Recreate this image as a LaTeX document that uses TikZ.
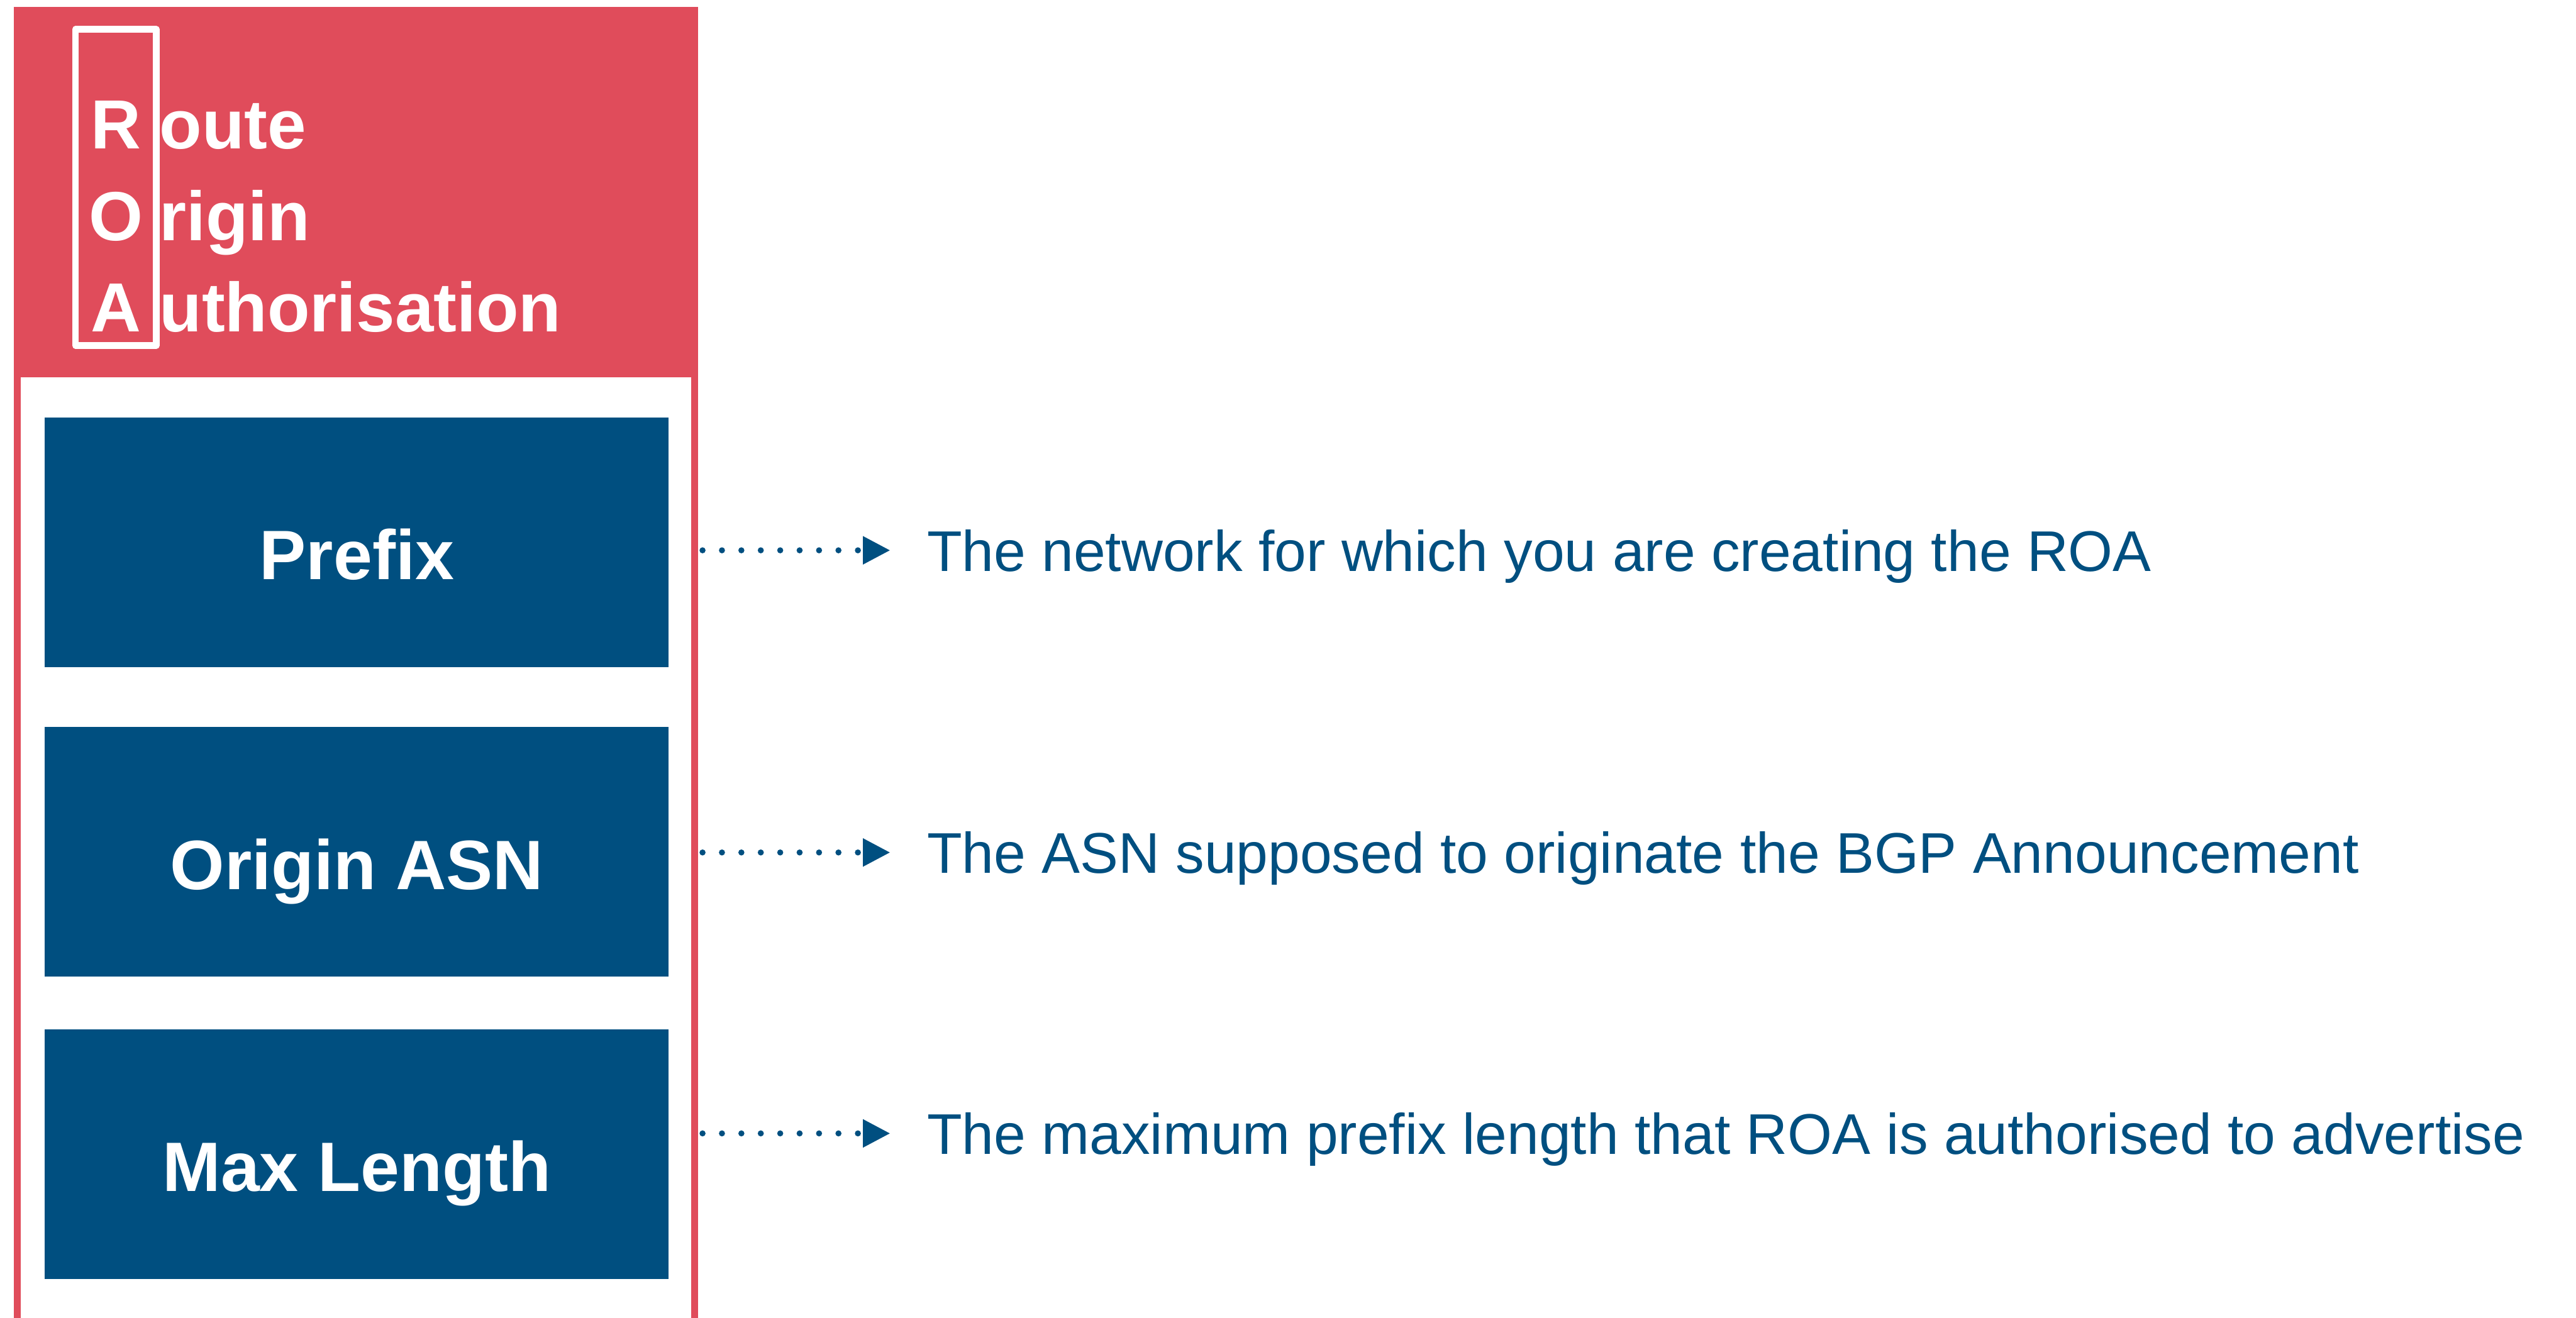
\documentclass[tikz,border=0pt]{standalone}
\usepackage{fontspec}
\setmainfont{Liberation Sans}
\usetikzlibrary{arrows.meta,positioning,calc}

\definecolor{roared}{HTML}{E04C5B}
\definecolor{roablue}{HTML}{004F80}

\begin{document}
\begin{tikzpicture}[x=1cm, y=-1cm, >=Stealth, line cap=round, line join=round,
  hdr/.style={text=white, inner sep=0pt, font=\bfseries\fontsize{32.6}{32.6}\selectfont},
  field/.style={fill=roablue, text=white, inner sep=0pt, minimum width=10.28cm, minimum height=4.115cm,
    text height=1.5cm, text depth=0.27cm, font=\bfseries\fontsize{32.8}{32.8}\selectfont},
  desc/.style={anchor=west, text=roablue, inner xsep=0.6cm, inner ysep=0pt,
    text height=0.69cm, text depth=0pt, font=\fontsize{26.9}{26.9}\selectfont},
  dotarrow/.style={roablue, line width=0.1cm, dash pattern=on 0pt off 0.32cm, shorten <=0.55cm,
    -{Triangle[length=0.45cm, width=0.44cm]}}]

\useasboundingbox (0,0) rectangle (42.45,21.72);

% frame and header
\draw[roared, line width=0.11cm, line cap=butt] (0.285,21.8) -- (0.285,0.165) -- (11.445,0.165) -- (11.445,21.8);
\fill[roared] (0.23,0.11) rectangle (11.50,6.22);
\draw[white, line width=0.11cm] (1.245,0.485) rectangle (2.575,5.695);

\node[hdr, anchor=base] (r) at (1.91,2.45) {R};
\node[hdr, anchor=base] (o) at (1.91,3.96) {O};
\node[hdr, anchor=base] (a) at (1.91,5.47) {A};
\node[hdr, anchor=base west] (route) at (2.62,2.45) {oute};
\node[hdr, anchor=base west] (origin) at (2.62,3.96) {rigin};
\node[hdr, anchor=base west] (auth) at (2.62,5.47) {uthorisation};

% fields
\node[field] (prefix) at (5.88,8.94) {Prefix};
\node[field] (asn) at (5.88,14.04) {Origin ASN};
\node[field] (maxlen) at (5.88,19.02) {Max Length};

\node[desc] (prefixtxt) at (14.67,9.07) {The network for which you are creating the ROA};
\node[desc] (asntxt) at (14.67,14.05) {The ASN supposed to originate the BGP Announcement};
\node[desc] (maxlentxt) at (14.67,18.68) {The maximum prefix length that ROA is authorised to advertise};

\draw[dotarrow] (prefix.east |- prefixtxt.west) -- (prefixtxt.west);
\draw[dotarrow] (asn.east |- asntxt.west) -- (asntxt.west);
\draw[dotarrow] (maxlen.east |- maxlentxt.west) -- (maxlentxt.west);

\end{tikzpicture}
\end{document}
